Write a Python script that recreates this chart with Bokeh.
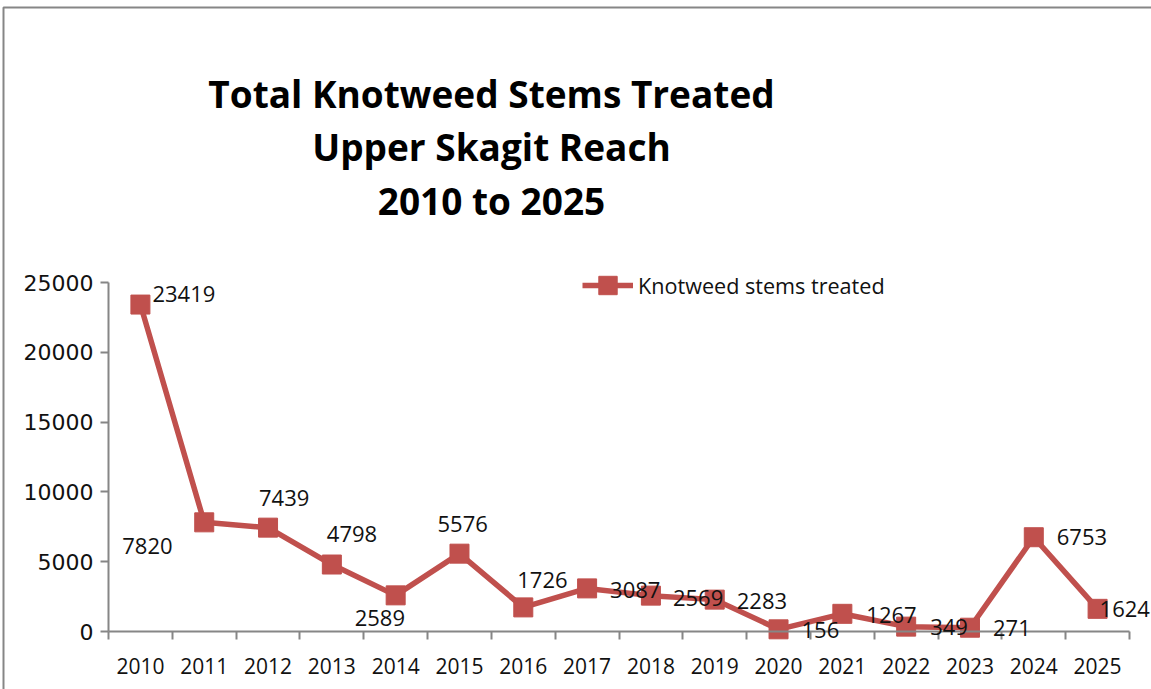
from bokeh.plotting import figure
from bokeh.models import (ColumnDataSource, FixedTicker, LabelSet, Label, Legend,
                          LegendItem, BoxAnnotation, Range1d)
from bokeh.core.properties import value
from bokeh.embed import file_html
from bokeh.resources import INLINE

# ---- data ----
years = [2010, 2011, 2012, 2013, 2014, 2015, 2016, 2017,
         2018, 2019, 2020, 2021, 2022, 2023, 2024, 2025]
stems = [23419, 7820, 7439, 4798, 2589, 5576, 1726, 3087,
         2569, 2283, 156, 1267, 349, 271, 6753, 1624]
year_labels = [str(y) for y in years]
y_ticks = [0, 5000, 10000, 15000, 20000, 25000]
title_lines = ["Total Knotweed Stems Treated", "Upper Skagit Reach", "2010 to 2025"]
series_name = "Knotweed stems treated"

# ---- label placement (screen px, styling only) ----
label_dx = [12, -82, -9, -5, -41, -22, -6, 23, 22, 22, 23, 24, 24, 23, 23, 2]
label_dy = [-11, 24, -30, -31, 23, -30, -27, 2, 2, 1, 1, 1, 0, 0, 0, 0]

RED = "#C0504D"
AXIS = "#868686"
FONT = "Open Sans"

# ---- layout (pixels) ----
W, H = 1151, 689
PL, PR, PT, PB = 108, 1129, 282, 631   # plot-area edges
x0, x1 = years[0] - 0.5, years[-1] + 0.5
y0, y1 = y_ticks[0], y_ticks[-1]
kx = (x1 - x0) / (PR - PL)
ky = (y1 - y0) / (PB - PT)

def px_x(px):
    return x0 + (px - PL) * kx

def px_y(py):
    return y0 + (PB - py) * ky

src = ColumnDataSource(dict(
    year=years, stems=stems, txt=[str(v) for v in stems],
    dx=label_dx, dy=[-d for d in label_dy],
))

p = figure(width=W, height=H, output_backend="svg", toolbar_location=None,
           x_range=Range1d(px_x(0), px_x(W)),
           y_range=Range1d(px_y(H), px_y(0)),
           min_border_left=0, min_border_right=0,
           min_border_top=0, min_border_bottom=0)
p.outline_line_color = None
p.xgrid.visible = False
p.ygrid.visible = False
p.background_fill_color = "white"
p.border_fill_color = "white"

# x axis: labels at years, tick marks between years
xa = p.xaxis[0]
xa.fixed_location = y0
xa.bounds = (x0, x1)
xa.ticker = FixedTicker(ticks=years, minor_ticks=[y - 0.5 for y in years] + [x1])
xa.major_label_overrides = {y: s for y, s in zip(years, year_labels)}
xa.major_tick_out = 0
xa.major_tick_in = 0
xa.minor_tick_out = 8
xa.minor_tick_in = 0
xa.minor_tick_line_color = AXIS
xa.minor_tick_line_width = 2
xa.axis_line_color = AXIS
xa.axis_line_width = 2
xa.major_label_text_font = FONT
xa.major_label_text_font_size = "21px"
xa.major_label_text_color = "#111111"
xa.major_label_standoff = 18

ya = p.yaxis[0]
ya.fixed_location = x0
ya.bounds = (y0, y1)
ya.ticker = FixedTicker(ticks=y_ticks, minor_ticks=[])
ya.major_tick_out = 8
ya.major_tick_in = 0
ya.major_tick_line_color = AXIS
ya.major_tick_line_width = 2
ya.minor_tick_line_color = None
ya.axis_line_color = AXIS
ya.axis_line_width = 2
ya.major_label_text_font = "DejaVu Sans"
ya.major_label_text_font_size = "22px"
ya.major_label_text_color = "#111111"
ya.major_label_standoff = 7

r_line = p.line(x="year", y="stems", source=src, line_color=RED, line_width=5.5)
r_pts = p.scatter(x="year", y="stems", source=src, marker="square", size=19,
                  fill_color=RED, line_color=RED)

labels = LabelSet(x="year", y="stems", text="txt", source=src,
                  x_offset="dx", y_offset="dy",
                  text_align="left", text_baseline="middle",
                  text_font=value(FONT), text_font_size="22px", text_color="#111111")
p.add_layout(labels)

legend = Legend(items=[LegendItem(label=series_name, renderers=[r_line, r_pts])],
                location=(582, H - 308), border_line_color=None, background_fill_alpha=0,
                padding=0, margin=0, spacing=0, glyph_width=51, glyph_height=46,
                label_standoff=5, label_height=46,
                label_text_font=FONT, label_text_font_size="21.6px",
                label_text_color="#111111")
p.add_layout(legend)

# title lines
baselines = [93, 146, 200]
for line, yb in zip(title_lines, baselines):
    p.add_layout(Label(x=px_x(491), y=px_y(yb), text=line,
                       text_align="center", text_baseline="alphabetic",
                       text_font="Open Sans", text_font_style="bold",
                       text_font_size="37px", text_color="#000000"))

# chart-area border
p.add_layout(BoxAnnotation(left=px_x(3), right=px_x(W + 20), top=px_y(7), bottom=px_y(H + 20),
                           fill_alpha=0, line_color="#868686", line_alpha=1.0, line_width=2))

open("out.html", "w").write(file_html(p, INLINE))
